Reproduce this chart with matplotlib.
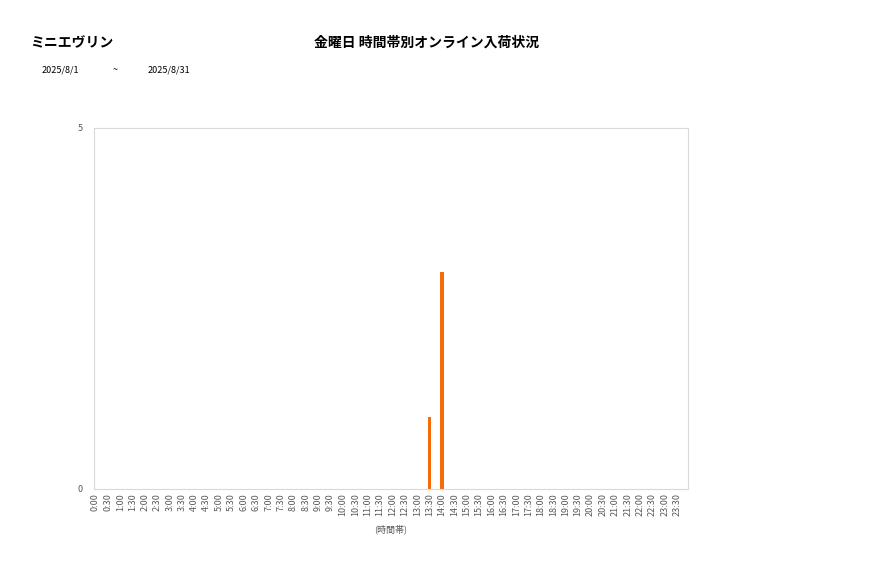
import matplotlib

matplotlib.use("Agg")
import matplotlib.pyplot as plt

plt.rcParams["font.family"] = ["Noto Sans CJK JP", "DejaVu Sans"]

# 30-minute time slots and arrival counts
slots = [f"{h}:{m:02d}" for h in range(24) for m in (0, 30)]
counts = [0] * 48
counts[slots.index("13:30")] = 1
counts[slots.index("14:00")] = 3

store_name = "ミニエヴリン"
chart_title = "金曜日 時間帯別オンライン入荷状況"
date_from = "2025/8/1"
date_to = "2025/8/31"

fig = plt.figure(figsize=(8.77, 5.78), dpi=100)
ax = fig.add_axes([0.1072, 0.154, 0.6773, 0.6246])

x = list(range(len(slots)))
ax.bar(x, counts, width=0.25, color="#F66C0A")
ax.set_xlim(-0.12, len(slots) - 0.12)
ax.set_ylim(0, 5)
ax.set_yticks([0, 5])
ax.set_xticks(x)
ax.set_xticklabels(slots, rotation=90, fontsize=6.5, color="#595959")
ax.tick_params(axis="y", labelsize=6.5, colors="#595959", length=0, pad=8)
ax.tick_params(axis="x", length=0, pad=3)
for s in ax.spines.values():
    s.set_color("#D9D9D9")
    s.set_linewidth(0.8)
ax.set_xlabel("(時間帯)", fontsize=6.5, color="#595959", labelpad=6)

fig.text(30 / 877, 1 - 43 / 578, store_name, fontsize=10, fontweight="bold",
         va="center", ha="left")
fig.text(427 / 877, 1 - 43 / 578, chart_title, fontsize=10, fontweight="bold",
         va="center", ha="center")
fig.text(42 / 877, 1 - 70 / 578, date_from, fontsize=6.5, va="center", ha="left")
fig.text(115 / 877, 1 - 70 / 578, "~", fontsize=6.5, va="center", ha="center")
fig.text(148 / 877, 1 - 70 / 578, date_to, fontsize=6.5, va="center", ha="left")

fig.savefig("out.png", dpi=100)
